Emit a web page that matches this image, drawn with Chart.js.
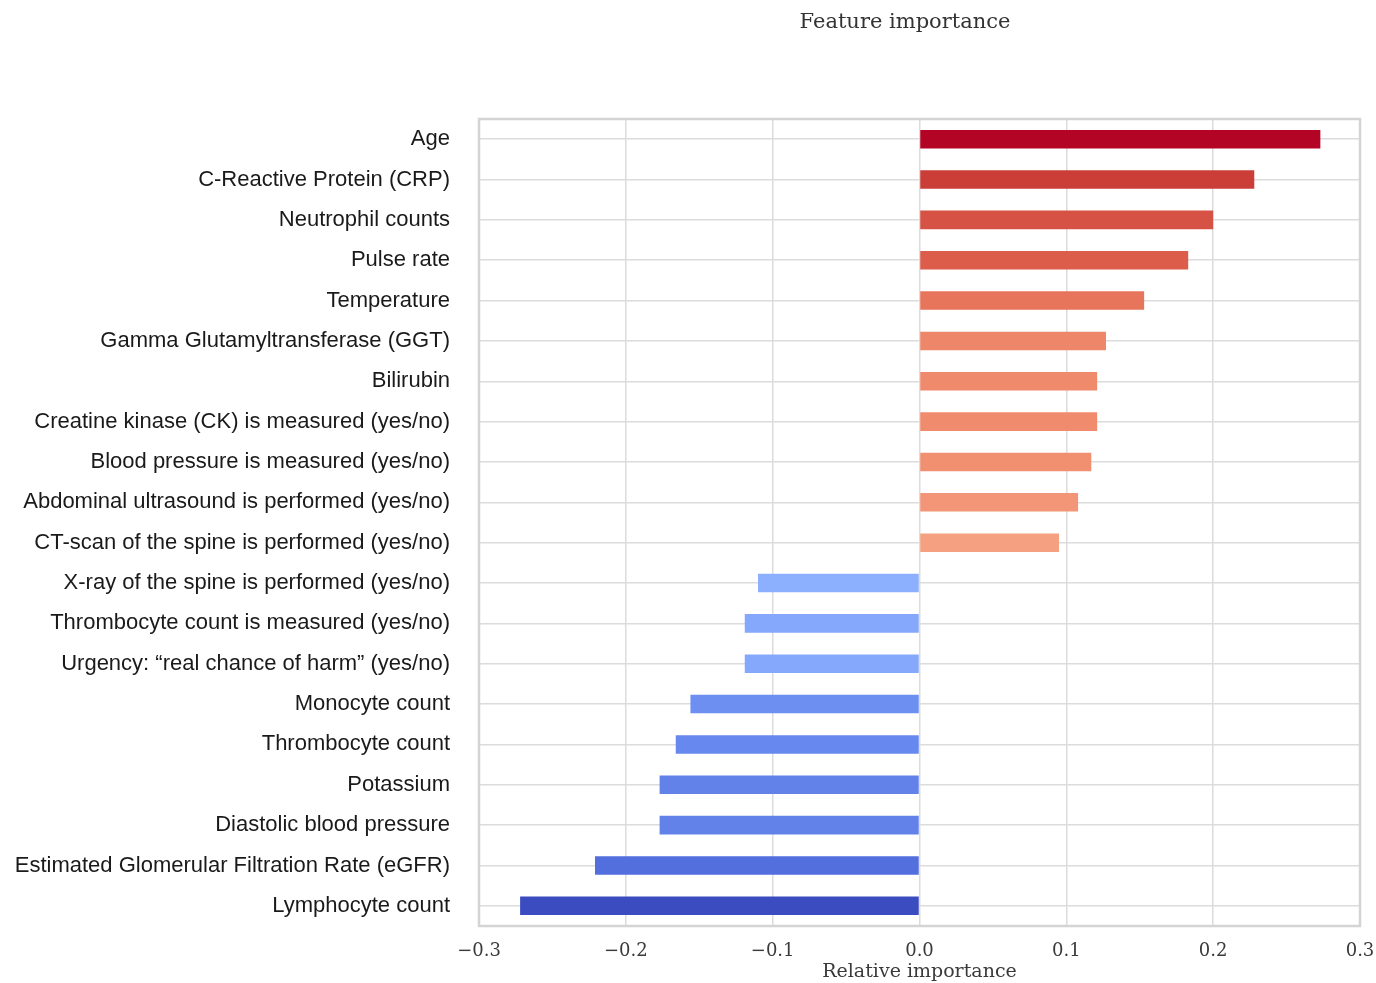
<!DOCTYPE html>
<html>
<head>
<meta charset="utf-8">
<title>Feature importance</title>
<script src="https://cdn.jsdelivr.net/npm/chart.js@4/dist/chart.umd.min.js"></script>
<style>
  html, body { margin: 0; padding: 0; background: #ffffff; }
  #wrap { position: relative; width: 1376px; height: 983px; }
</style>
</head>
<body>
<div id="wrap"><canvas id="chart" width="1376" height="983"></canvas></div>
<script>
// Features, top to bottom
const features = [
  "Age",
  "C-Reactive Protein (CRP)",
  "Neutrophil counts",
  "Pulse rate",
  "Temperature",
  "Gamma Glutamyltransferase (GGT)",
  "Bilirubin",
  "Creatine kinase (CK) is measured (yes/no)",
  "Blood pressure is measured (yes/no)",
  "Abdominal ultrasound is performed (yes/no)",
  "CT-scan of the spine is performed (yes/no)",
  "X-ray of the spine is performed (yes/no)",
  "Thrombocyte count is measured (yes/no)",
  "Urgency: \u201Creal chance of harm\u201D (yes/no)",
  "Monocyte count",
  "Thrombocyte count",
  "Potassium",
  "Diastolic blood pressure",
  "Estimated Glomerular Filtration Rate (eGFR)",
  "Lymphocyte count"
];

// Relative importance of each feature
const importance = [
  0.273, 0.228, 0.200, 0.183, 0.153, 0.127, 0.121, 0.121, 0.117, 0.108,
  0.095, -0.110, -0.119, -0.119, -0.156, -0.166, -0.177, -0.177, -0.221, -0.272
];

// x-axis tick values
const xTicks = [-0.3, -0.2, -0.1, 0.0, 0.1, 0.2, 0.3];

// Diverging (cool-warm) bar colours
const barColors = [
  "#b40426", "#cb3e38", "#d65244", "#dc5d4a", "#e7755b", "#ee8669", "#f08a6c",
  "#f08b6e", "#f18f71", "#f39577", "#f5a081", "#8caffe", "#85a8fc", "#85a8fc",
  "#6c8ff1", "#6788ee", "#6282ea", "#6282ea", "#536edd", "#3b4cc0"
];

const SERIF = "'DejaVu Serif', serif";
const SANS = "'Liberation Sans', Arial, sans-serif";

// Plot frame plus a title centred above the plot
const framePlugin = {
  id: "frame",
  beforeDatasetsDraw(chart) {
    const { ctx, chartArea: a } = chart;
    ctx.save();
    ctx.strokeStyle = "#d4d4d4";
    ctx.lineWidth = 2.5;
    ctx.strokeRect(a.left, a.top, a.right - a.left, a.bottom - a.top);
    ctx.restore();
  },
  afterDraw(chart) {
    const { ctx } = chart;
    ctx.save();
    ctx.font = "21px " + SERIF;
    ctx.fillStyle = "#333333";
    ctx.textAlign = "center";
    ctx.textBaseline = "middle";
    ctx.fillText("Feature importance", 905, 23);
    ctx.restore();
  }
};

new Chart(document.getElementById("chart"), {
  type: "bar",
  data: {
    labels: features,
    datasets: [{
      data: importance,
      backgroundColor: barColors,
      borderWidth: 0,
      barPercentage: 0.46,
      categoryPercentage: 1.0
    }]
  },
  options: {
    indexAxis: "y",
    responsive: false,
    animation: false,
    layout: { padding: { top: 119, right: 16, left: 0, bottom: 0 } },
    plugins: {
      legend: { display: false },
      tooltip: { enabled: false }
    },
    scales: {
      x: {
        type: "linear",
        min: -0.3,
        max: 0.3,
        afterBuildTicks(scale) { scale.ticks = xTicks.map(v => ({ value: v })); },
        afterFit(scale) {
          scale.height = 57;
          scale.paddingLeft = 0;
          scale.paddingRight = 0;
        },
        grid: { color: "#dcdcdc", lineWidth: 1.5, drawTicks: false },
        border: { display: false },
        ticks: {
          padding: 15,
          color: "#3a3a3a",
          font: { family: SERIF, size: 18 },
          callback: v => (v < 0 ? "\u2212" : "") + Math.abs(v).toFixed(1)
        },
        title: {
          display: true,
          text: "Relative importance",
          color: "#3a3a3a",
          font: { family: SERIF, size: 19 },
          padding: { top: 0, bottom: 0 }
        }
      },
      y: {
        type: "category",
        offset: true,
        afterFit(scale) { scale.width = 479; },
        grid: { color: "#dcdcdc", lineWidth: 1.5, drawTicks: false, offset: false },
        border: { display: false },
        ticks: {
          padding: 29,
          color: "#1a1a1a",
          font: { family: SANS, size: 22 },
          autoSkip: false
        }
      }
    }
  },
  plugins: [framePlugin]
});
</script>
</body>
</html>
